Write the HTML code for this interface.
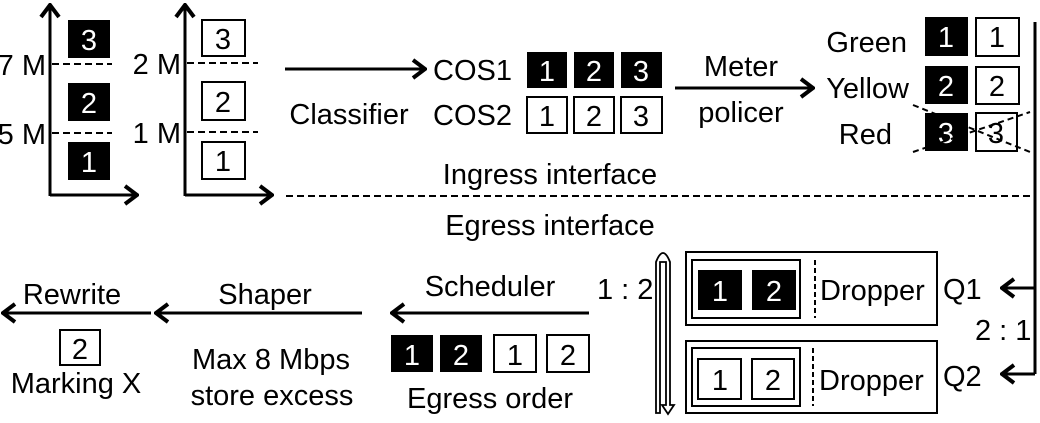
<!DOCTYPE html>
<html><head><meta charset="utf-8"><style>
html,body{margin:0;padding:0;background:#fff}
svg{display:block}
text{font-family:"Liberation Sans",Arial,sans-serif;font-size:29px;fill:#000}
.w{fill:#fff}
</style></head><body>
<svg width="1040" height="423" viewBox="0 0 1040 423">
<defs>
<marker id="a" markerWidth="16" markerHeight="22" refX="14" refY="11" orient="auto" markerUnits="userSpaceOnUse">
<path d="M2,2 L14,11 L2,20" fill="none" stroke="#000" stroke-width="4"/>
</marker>
</defs>
<g stroke="#000" stroke-width="3" fill="none">
<line x1="50" y1="196" x2="50" y2="5" marker-end="url(#a)"/>
<line x1="50" y1="195" x2="137" y2="195" marker-end="url(#a)"/>
<line x1="185" y1="196" x2="185" y2="5" marker-end="url(#a)"/>
<line x1="185" y1="195" x2="272" y2="195" marker-end="url(#a)"/>
</g>
<g stroke="#000" stroke-width="2" stroke-dasharray="7,4">
<line x1="52" y1="64" x2="112" y2="64"/><line x1="52" y1="133" x2="112" y2="133"/>
<line x1="187" y1="63" x2="258" y2="63"/><line x1="187" y1="132" x2="258" y2="132"/>
<line x1="286" y1="196" x2="1035" y2="196"/>
</g>
<rect x="68" y="20" width="42" height="38"/><text x="89" y="50" text-anchor="middle" class="w">3</text>
<rect x="68" y="83" width="42" height="38"/><text x="89" y="113" text-anchor="middle" class="w">2</text>
<rect x="68" y="142" width="42" height="38"/><text x="89" y="172" text-anchor="middle" class="w">1</text>
<text x="46" y="75" text-anchor="end">7 M</text><text x="46" y="144" text-anchor="end">5 M</text>
<g fill="#fff" stroke="#000" stroke-width="2">
<rect x="202" y="20" width="43" height="36"/><rect x="202" y="82" width="43" height="38"/><rect x="202" y="142" width="43" height="37"/>
</g>
<text x="223" y="49" text-anchor="middle">3</text><text x="223" y="112" text-anchor="middle">2</text><text x="223" y="171" text-anchor="middle">1</text>
<text x="181" y="74" text-anchor="end">2 M</text><text x="181" y="143" text-anchor="end">1 M</text>

<line x1="285" y1="69" x2="425" y2="69" stroke="#000" stroke-width="3" marker-end="url(#a)"/>
<text x="349" y="124" text-anchor="middle">Classifier</text>
<text x="433" y="80">COS1</text><text x="433" y="125">COS2</text>
<rect x="527" y="52" width="40" height="36"/><rect x="574" y="52" width="40" height="36"/><rect x="621" y="52" width="41" height="36"/>
<text x="547" y="81" text-anchor="middle" class="w">1</text><text x="594" y="81" text-anchor="middle" class="w">2</text><text x="641" y="81" text-anchor="middle" class="w">3</text>
<g fill="#fff" stroke="#000" stroke-width="2">
<rect x="527" y="97" width="40" height="36"/><rect x="574" y="97" width="40" height="36"/><rect x="621" y="97" width="41" height="36"/>
</g>
<text x="547" y="126" text-anchor="middle">1</text><text x="594" y="126" text-anchor="middle">2</text><text x="641" y="126" text-anchor="middle">3</text>

<line x1="675" y1="88" x2="813" y2="88" stroke="#000" stroke-width="3" marker-end="url(#a)"/>
<text x="741" y="76" text-anchor="middle">Meter</text><text x="741" y="122" text-anchor="middle">policer</text>
<text x="907" y="52" text-anchor="end">Green</text><text x="909" y="98" text-anchor="end">Yellow</text><text x="892" y="144" text-anchor="end">Red</text>
<rect x="925" y="17" width="43" height="39"/><rect x="925" y="66" width="43" height="38"/><rect x="925" y="113" width="43" height="38"/>
<text x="946" y="47" text-anchor="middle" class="w">1</text><text x="946" y="96" text-anchor="middle" class="w">2</text><text x="946" y="143" text-anchor="middle" class="w">3</text>
<g fill="#fff" stroke="#000" stroke-width="2">
<rect x="976" y="18" width="43" height="38"/><rect x="976" y="67" width="43" height="37"/><rect x="976" y="113" width="41" height="38"/>
</g>
<text x="997" y="47" text-anchor="middle">1</text><text x="997" y="96" text-anchor="middle">2</text><text x="996" y="143" text-anchor="middle">3</text>
<g stroke="#000" stroke-width="2" stroke-dasharray="6,4">
<line x1="913" y1="105" x2="1030" y2="152"/><line x1="913" y1="152" x2="1030" y2="112"/>
</g>

<text x="550" y="184" text-anchor="middle">Ingress interface</text>
<text x="550" y="235" text-anchor="middle">Egress interface</text>

<g stroke="#000" stroke-width="3" fill="none">
<line x1="1035" y1="22" x2="1035" y2="374"/>
<line x1="1035" y1="288" x2="1002" y2="288" marker-end="url(#a)"/>
<line x1="1035" y1="374" x2="1002" y2="374" marker-end="url(#a)"/>
</g>
<text x="975" y="340">2 : 1</text>
<text x="943" y="299">Q1</text><text x="943" y="386">Q2</text>

<g fill="none" stroke="#000" stroke-width="2">
<rect x="686" y="252" width="251" height="73"/><rect x="692" y="260" width="108" height="58"/>
<rect x="686" y="341" width="251" height="72"/><rect x="692" y="348" width="108" height="58"/>
</g>
<line x1="815" y1="260" x2="815" y2="318" stroke="#000" stroke-width="2" stroke-dasharray="5,3"/>
<line x1="813" y1="348" x2="813" y2="406" stroke="#000" stroke-width="2" stroke-dasharray="5,3"/>
<text x="820" y="300">Dropper</text><text x="819" y="390">Dropper</text>
<rect x="698" y="270" width="44" height="40"/><rect x="752" y="270" width="44" height="40"/>
<text x="720" y="301" text-anchor="middle" class="w">1</text><text x="774" y="301" text-anchor="middle" class="w">2</text>
<g fill="#fff" stroke="#000" stroke-width="2"><rect x="698" y="359" width="43" height="40"/><rect x="752" y="359" width="42" height="40"/></g>
<text x="720" y="390" text-anchor="middle">1</text><text x="773" y="390" text-anchor="middle">2</text>
<path d="M656,413 L656,262 Q663,244 670,262 L670,405 L674,405 L668,414 L662,405 L666,405 L666,262 L660,262 L660,413 Z" fill="#fff" stroke="#000" stroke-width="1.8"/>
<text x="597" y="299">1 : 2</text>

<g stroke="#000" stroke-width="3">
<line x1="589" y1="313" x2="392" y2="313" marker-end="url(#a)"/>
<line x1="362" y1="313" x2="156" y2="313" marker-end="url(#a)"/>
<line x1="151" y1="313" x2="3" y2="313" marker-end="url(#a)"/>
</g>
<text x="490" y="296" text-anchor="middle">Scheduler</text>
<text x="265" y="304" text-anchor="middle">Shaper</text>
<text x="72" y="304" text-anchor="middle">Rewrite</text>
<rect x="391" y="335" width="42" height="37"/><rect x="440" y="335" width="42" height="37"/>
<text x="412" y="365" text-anchor="middle" class="w">1</text><text x="461" y="365" text-anchor="middle" class="w">2</text>
<g fill="#fff" stroke="#000" stroke-width="2"><rect x="494" y="335" width="42" height="37"/><rect x="547" y="335" width="42" height="37"/>
<rect x="60" y="330" width="40" height="35"/></g>
<text x="515" y="365" text-anchor="middle">1</text><text x="568" y="365" text-anchor="middle">2</text>
<text x="80" y="359" text-anchor="middle">2</text>
<text x="490" y="408" text-anchor="middle">Egress  order</text>
<text x="271" y="369" text-anchor="middle">Max 8 Mbps</text>
<text x="272" y="405" text-anchor="middle">store excess</text>
<text x="76" y="393" text-anchor="middle">Marking X</text>
</svg>
</body></html>
